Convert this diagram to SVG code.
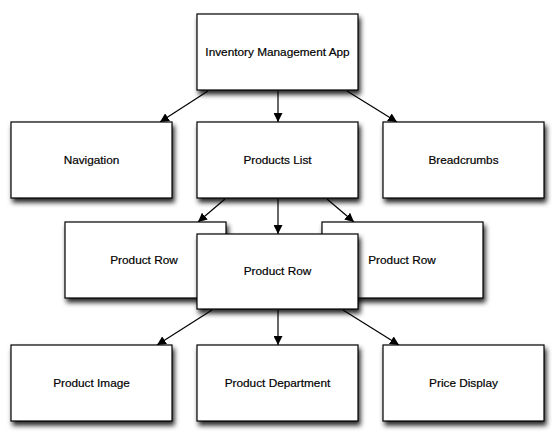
<svg xmlns="http://www.w3.org/2000/svg" width="554" height="433" viewBox="0 0 554 433">
<style>
.box{fill:#fff;stroke:#000;stroke-width:1.2;filter:url(#sh)}
.lbl{font-family:"Liberation Sans",Arial,sans-serif;font-size:11.8px;fill:#000;stroke:#000;stroke-width:0.2;text-anchor:middle;dominant-baseline:central}
.edge{stroke:#000;stroke-width:1.2;fill:none;marker-end:url(#ah)}
</style>
<defs>
<filter id="sh" x="-10%" y="-10%" width="130%" height="140%">
<feDropShadow dx="2" dy="4" stdDeviation="2.5" flood-color="#000" flood-opacity="0.85"/>
</filter>
<marker id="ah" viewBox="0 0 10 10" refX="10" refY="5" markerWidth="9" markerHeight="9" markerUnits="userSpaceOnUse" orient="auto">
<path d="M0,0 L10,5 L0,10 z" fill="#000"/>
</marker>
</defs>
<rect width="554" height="433" fill="#fff"/>
<g id="connectors">
<line class="edge" x1="208" y1="91" x2="160" y2="122"/>
<line class="edge" x1="278" y1="91" x2="278" y2="122"/>
<line class="edge" x1="347" y1="91" x2="397" y2="122"/>
<line class="edge" x1="225" y1="199" x2="198" y2="222"/>
<line class="edge" x1="278" y1="199" x2="278" y2="234"/>
<line class="edge" x1="327" y1="199" x2="354" y2="222"/>
<line class="edge" x1="212" y1="310" x2="157" y2="345"/>
<line class="edge" x1="278" y1="310" x2="278" y2="345"/>
<line class="edge" x1="343" y1="310" x2="399" y2="345"/>
</g>
<g id="app"><rect class="box" x="197" y="14" width="161" height="76"/><text class="lbl" x="277.5" y="52">Inventory Management App</text></g>
<g id="navigation"><rect class="box" x="11" y="122" width="161" height="76"/><text class="lbl" x="91.5" y="160">Navigation</text></g>
<g id="products-list"><rect class="box" x="197" y="122" width="161" height="76"/><text class="lbl" x="277.5" y="160">Products List</text></g>
<g id="breadcrumbs"><rect class="box" x="383" y="122" width="161" height="76"/><text class="lbl" x="463.5" y="160">Breadcrumbs</text></g>
<g id="product-row-left"><rect class="box" x="65" y="222" width="161" height="76"/><text class="lbl" x="144" y="260">Product Row</text></g>
<g id="product-row-right"><rect class="box" x="322" y="222" width="161" height="76"/><text class="lbl" x="402" y="260">Product Row</text></g>
<g id="product-row-mid"><rect class="box" x="197" y="234" width="161" height="75"/><text class="lbl" x="277.5" y="271">Product Row</text></g>
<g id="product-image"><rect class="box" x="11" y="345" width="161" height="76"/><text class="lbl" x="91.5" y="383">Product Image</text></g>
<g id="product-department"><rect class="box" x="197" y="345" width="161" height="76"/><text class="lbl" x="277.5" y="383">Product Department</text></g>
<g id="price-display"><rect class="box" x="383" y="345" width="161" height="76"/><text class="lbl" x="463.5" y="383">Price Display</text></g>
</svg>
